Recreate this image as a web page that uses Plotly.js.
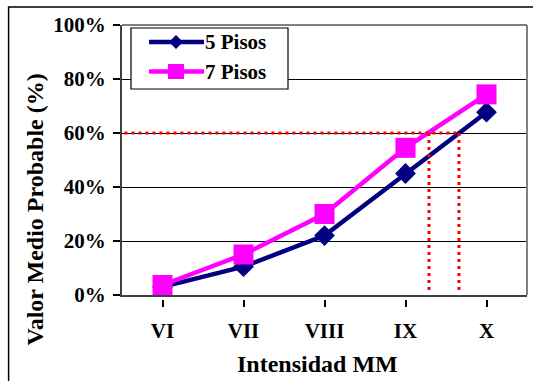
<!DOCTYPE html>
<html>
<head>
<meta charset="utf-8">
<script src="https://cdn.plot.ly/plotly-3.0.1.min.js"></script>
<style>
html,body{margin:0;padding:0;background:#fff;}
#chart{width:533px;height:381px;}
</style>
</head>
<body>
<div id="chart"></div>
<script>
// ---- data ----
const categories = ['VI', 'VII', 'VIII', 'IX', 'X'];
const pisos5 = [3, 10.5, 22, 45, 67.7];
const pisos7 = [3.7, 15, 30, 54.5, 74.3];
const seriesNames = ['5 Pisos', '7 Pisos'];
const yTickVals = [0, 20, 40, 60, 80, 100];
const yTickText = ['0%', '20%', '40%', '60%', '80%', '100%'];
const threshold = 60;            // horizontal reference level (%)
const crossX = [3.29, 3.66];     // category positions where the curves reach the threshold
const crossBottom = [1.2, 1.8];  // lower ends of the vertical guide lines (%)
const xTitle = 'Intensidad MM';
const yTitle = 'Valor Medio Probable (%)';

const NAVY = '#000080', PINK = '#FF00FF', RED = '#FF0000';
const FONT = 'Liberation Serif, Times New Roman, serif';

const traces = [
  {x: categories, y: pisos5, name: seriesNames[0], type: 'scatter', mode: 'lines+markers',
   line: {color: NAVY, width: 4.5}, marker: {symbol: 'diamond', size: 16, color: NAVY}},
  {x: categories, y: pisos7, name: seriesNames[1], type: 'scatter', mode: 'lines+markers',
   line: {color: PINK, width: 4.5}, marker: {symbol: 'square', size: 20, color: PINK}}
];

const shapes = [];
// outer frame
shapes.push({type: 'rect', xref: 'paper', yref: 'paper', x0: -0.280, x1: 1.05, y0: -0.4, y1: 1.0667,
  line: {color: '#000', width: 1.5}, fillcolor: 'rgba(0,0,0,0)', layer: 'below'});
// gray frame top/right of plot area
shapes.push({type: 'line', xref: 'paper', yref: 'paper', x0: 0, x1: 1, y0: 1, y1: 1, line: {color: '#808080', width: 2}});
shapes.push({type: 'line', xref: 'paper', yref: 'paper', x0: 1, x1: 1, y0: 0, y1: 1, line: {color: '#808080', width: 2}});
// red dotted guides
shapes.push({type: 'line', xref: 'x', yref: 'y', x0: -0.47, x1: crossX[1], y0: threshold, y1: threshold,
  line: {color: RED, width: 3, dash: '3px,4px'}});
crossX.forEach((cx, i) => {
  shapes.push({type: 'line', xref: 'x', yref: 'y', x0: cx, x1: cx, y0: threshold, y1: crossBottom[i],
    line: {color: RED, width: 3, dash: '3px,4px'}});
});
// gap between axis line and x tick marks
shapes.push({type: 'rect', xref: 'paper', yref: 'paper', x0: 0.02, x1: 0.99, y0: -0.0185, y1: -0.0075,
  line: {width: 0}, fillcolor: '#fff', layer: 'above'});

// manual legend (box, samples, labels)
const lgX0 = (131 - 122) / 405, lgX1 = (288 - 122) / 405, lgY1 = (295 - 28) / 270, lgY0 = (295 - 89) / 270;
shapes.push({type: 'rect', xref: 'paper', yref: 'paper', x0: lgX0, x1: lgX1, y0: lgY0, y1: lgY1,
  line: {color: '#000', width: 1.2}, fillcolor: '#fff', layer: 'above'});
const rowY = [(295 - 42) / 270, (295 - 71.5) / 270];
const sampX0 = (149 - 122) / 405, sampX1 = (204 - 122) / 405, sampXc = (176 - 122) / 405;
[NAVY, PINK].forEach((c, i) => {
  shapes.push({type: 'line', xref: 'paper', yref: 'paper', x0: sampX0, x1: sampX1, y0: rowY[i], y1: rowY[i],
    line: {color: c, width: 4.5}, layer: 'above'});
});
shapes.push({type: 'path', xref: 'paper', yref: 'paper', xsizemode: 'pixel', ysizemode: 'pixel',
  xanchor: sampXc, yanchor: rowY[0], path: 'M0,7 L7,0 L0,-7 L-7,0 Z',
  fillcolor: NAVY, line: {color: NAVY, width: 0}, layer: 'above'});
shapes.push({type: 'rect', xref: 'paper', yref: 'paper', xsizemode: 'pixel', ysizemode: 'pixel',
  xanchor: sampXc, yanchor: rowY[1], x0: -8, x1: 8, y0: -7.5, y1: 7.5,
  fillcolor: PINK, line: {color: PINK, width: 0}, layer: 'above'});

const annotations = seriesNames.map((n, i) => ({
  text: '<b>' + n + '</b>', xref: 'paper', yref: 'paper', x: (203 - 122) / 405, y: rowY[i],
  xanchor: 'left', yanchor: 'middle', showarrow: false, font: {family: FONT, size: 21, color: '#000'}
}));
annotations.push({text: '<b>' + yTitle + '</b>', xref: 'paper', yref: 'paper', x: (34 - 122) / 405, y: (295 - 209.5) / 270,
  xanchor: 'center', yanchor: 'middle', textangle: -90, showarrow: false, font: {family: FONT, size: 24, color: '#000'}});
annotations.push({text: '<b>' + xTitle + '</b>', xref: 'paper', yref: 'paper', x: (317 - 122) / 405, y: (295 - 364) / 270,
  xanchor: 'center', yanchor: 'middle', showarrow: false, font: {family: FONT, size: 24, color: '#000'}});

const layout = {
  width: 533, height: 381,
  margin: {l: 122, r: 6, t: 25, b: 86},
  paper_bgcolor: '#fff', plot_bgcolor: '#fff',
  showlegend: false,
  font: {family: FONT, color: '#000'},
  xaxis: {
    type: 'category', range: [-0.5, 4.5], showgrid: false, zeroline: false,
    showline: true, linecolor: '#404040', linewidth: 2,
    ticks: 'outside', ticklen: 10, tickwidth: 2, tickcolor: '#000',
    tickfont: {family: FONT, size: 21, color: '#000', weight: 'bold'},
    ticklabelstandoff: 6
  },
  yaxis: {
    range: [0, 100], tickvals: yTickVals, ticktext: yTickText,
    showgrid: true, gridcolor: '#000', gridwidth: 1, zeroline: false,
    showline: true, linecolor: '#404040', linewidth: 2,
    ticks: 'outside', ticklen: 7, tickwidth: 1.5, tickcolor: '#000',
    tickfont: {family: FONT, size: 21, color: '#000', weight: 'bold'},
    ticklabelstandoff: 3
  },
  shapes: shapes,
  annotations: annotations
};

Plotly.newPlot('chart', traces, layout, {staticPlot: true, displayModeBar: false});
</script>
</body>
</html>
